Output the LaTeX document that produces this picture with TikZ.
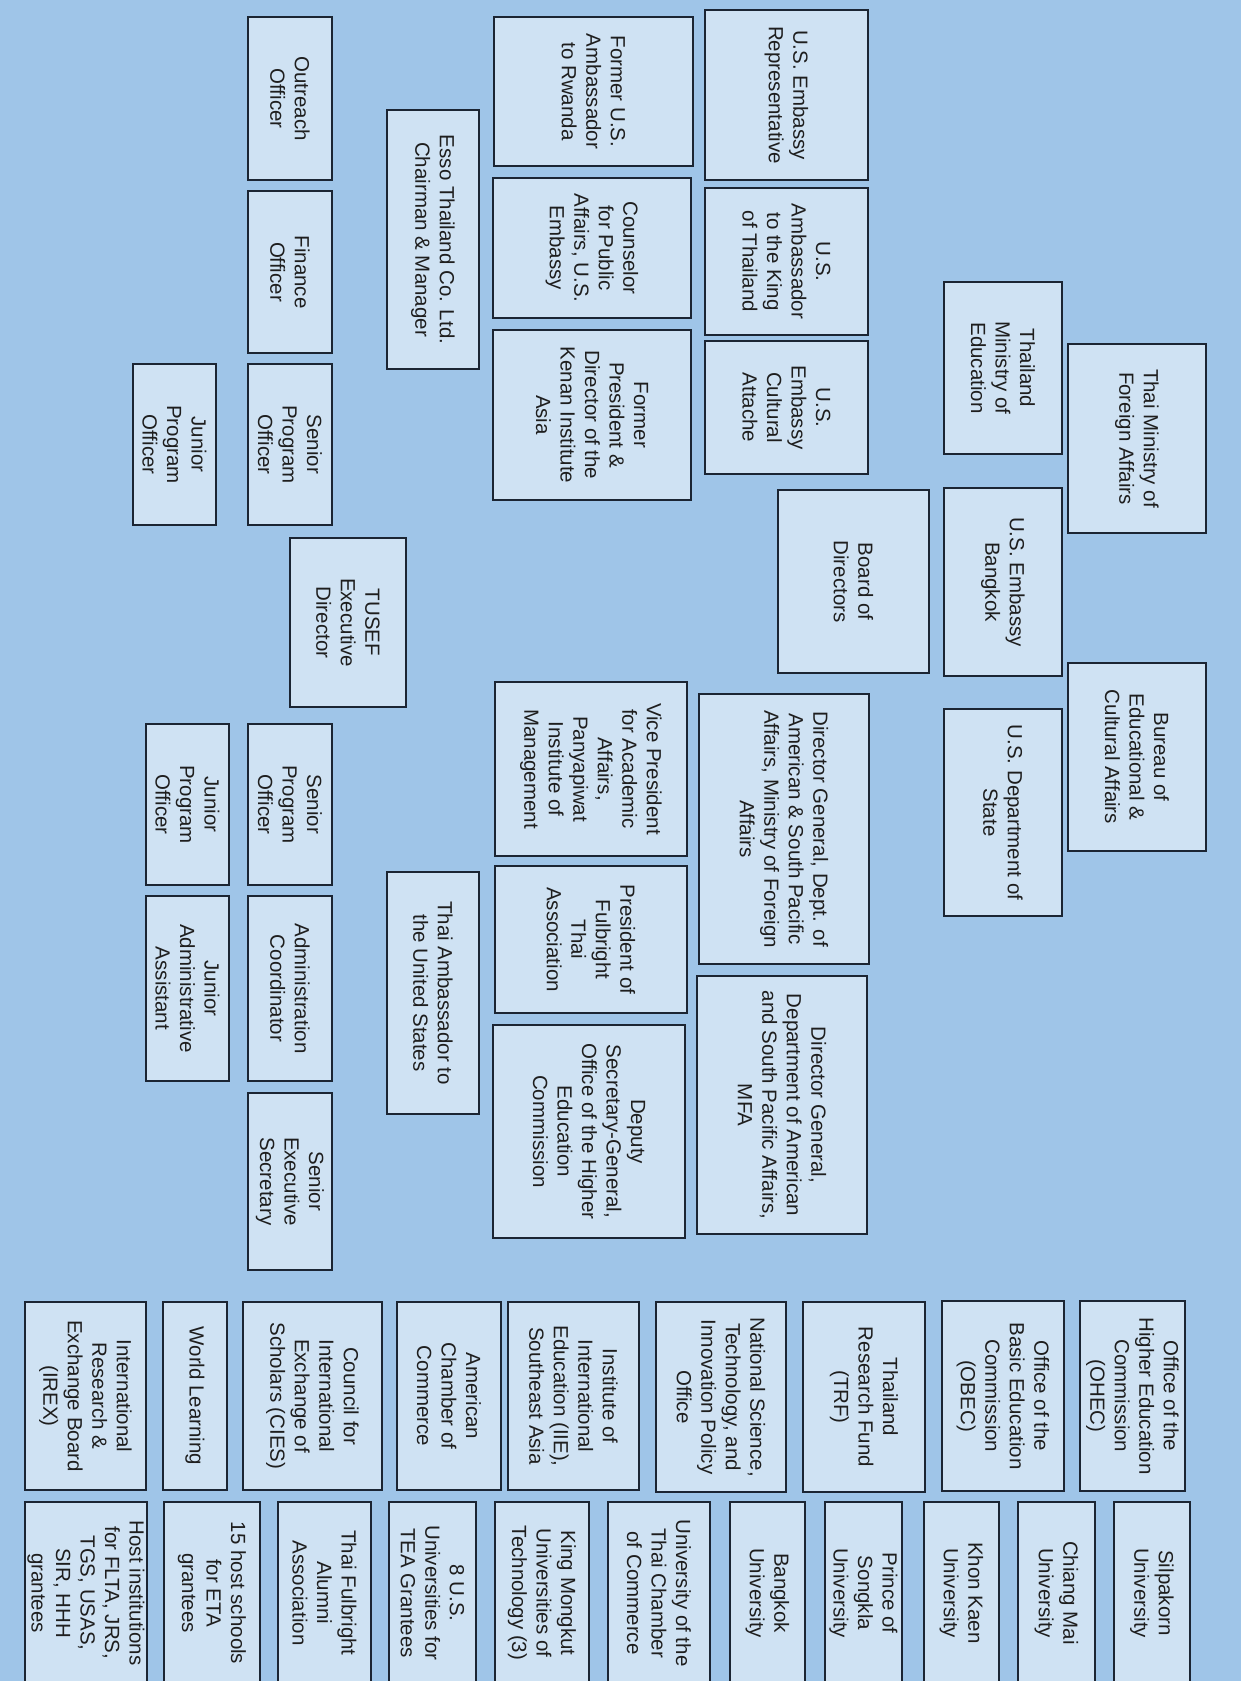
\documentclass[tikz,border=0pt]{standalone}
\usepackage{fontspec}
\setmainfont{Liberation Sans}
\usepackage{tikz}
\definecolor{sheet}{HTML}{9FC5E8}
\definecolor{unitfill}{HTML}{CFE2F3}
\definecolor{unitline}{HTML}{1B2533}
\definecolor{unittext}{HTML}{1E1E1E}

\begin{document}
\begin{tikzpicture}[
    x=0.5pt, y=-0.5pt,
    every node/.style={
        rectangle,
        draw=unitline,
        fill=unitfill,
        line width=0.9pt,
        inner sep=0pt,
        rotate=-90,
        align=center,
        text=unittext,
        font=\fontsize{10.25}{12.25}\selectfont
    },
    unitbox/.style 2 args={minimum width=#1*0.5pt, minimum height=#2*0.5pt}
]

\useasboundingbox (0,0) rectangle (1241,1681);
\fill[sheet] (0,0) rectangle (1241,1681);

% TUSEF staff
\node[unitbox={163}{84}] (outreach) at (290,98.5) {Outreach\\Officer};
\node[unitbox={162}{84}] (finance) at (290,272) {Finance\\Officer};
\node[unitbox={161}{84}] (sproga) at (290,444.5) {Senior\\Program\\Officer};
\node[unitbox={161}{83}] (jproga) at (174.5,444.5) {Junior\\Program\\Officer};
\node[unitbox={169}{116}] (tusef) at (348,622.5) {TUSEF\\Executive\\Director};
\node[unitbox={161}{84}] (sprogb) at (290,804.5) {Senior\\Program\\Officer};
\node[unitbox={161}{83}] (jprogb) at (187.5,804.5) {Junior\\Program\\Officer};
\node[unitbox={185}{84}] (admin) at (290,988.5) {Administration\\Coordinator};
\node[unitbox={185}{83}] (jadmin) at (187.5,988.5) {Junior\\Administrative\\Assistant};
\node[unitbox={177}{84}] (secretary) at (290,1181.5) {Senior\\Executive\\Secretary};

% board members
\node[unitbox={259}{92}] (esso) at (433,239.5) {Esso Thailand Co. Ltd.\\Chairman \& Manager};
\node[unitbox={242}{92}] (thaiamb) at (433,993) {Thai Ambassador to\\the United States};
\node[unitbox={149}{199}] (rwanda) at (593.5,91.5) {Former U.S.\\Ambassador\\to Rwanda};
\node[unitbox={140}{198}] (counselor) at (592,248) {Counselor\\for Public\\Affairs, U.S.\\Embassy};
\node[unitbox={170}{198}] (kenan) at (592,415) {Former\\President \&\\Director of the\\Kenan Institute\\Asia};
\node[unitbox={174}{192}] (vp) at (591,769) {Vice President\\for Academic\\Affairs,\\Panyapiwat\\Institute of\\Management};
\node[unitbox={147}{192}] (ftapres) at (591,939.5) {President of\\Fulbright\\Thai\\Association};
\node[unitbox={213}{192}] (deputy) at (589,1131.5) {Deputy\\Secretary-General,\\Office of the Higher\\Education\\Commission};
\node[unitbox={170}{163}] (embrep) at (786.5,95) {U.S. Embassy\\Representative};
\node[unitbox={147}{163}] (ambking) at (786.5,261.5) {U.S.\\Ambassador\\to the King\\of Thailand};
\node[unitbox={133}{163}] (attache) at (786.5,407.5) {U.S.\\Embassy\\Cultural\\Attache};
\node[unitbox={270}{170}] (dgdept) at (784,829) {Director General, Dept. of\\American \& South Pacific\\Affairs, Ministry of Foreign\\Affairs};
\node[unitbox={258}{170}] (dgmfa) at (782,1105) {Director General,\\Department of American\\and South Pacific Affairs,\\MFA};
\node[unitbox={183}{151}] (board) at (853.5,581.5) {Board of\\Directors};

% governments
\node[unitbox={172}{118}] (moe) at (1003,368) {Thailand\\Ministry of\\Education};
\node[unitbox={188}{118}] (embbkk) at (1003,582) {U.S. Embassy\\Bangkok};
\node[unitbox={207}{118}] (state) at (1003,812.5) {U.S. Department of\\State};
\node[unitbox={189}{138}] (mfa) at (1137,438.5) {Thai Ministry of\\Foreign Affairs};
\node[unitbox={188}{138}] (eca) at (1137,757) {Bureau of\\Educational \&\\Cultural Affairs};

% partner organizations
\node[unitbox={188}{121}] (irex) at (85.5,1396) {International\\Research \&\\Exchange Board\\(IREX)};
\node[unitbox={188}{64}] (worldlearn) at (195,1396) {World Learning};
\node[unitbox={188}{139}] (cies) at (312.5,1396) {Council for\\International\\Exchange of\\Scholars (CIES)};
\node[unitbox={188}{104}] (amcham) at (449,1396) {American\\Chamber of\\Commerce};
\node[unitbox={188}{131}] (iie) at (573.5,1396) {Institute of\\International\\Education (IIE),\\Southeast Asia};
\node[unitbox={190}{130}] (nsti) at (721,1397) {National Science,\\Technology, and\\Innovation Policy\\Office};
\node[unitbox={190}{122}] (trf) at (864,1397) {Thailand\\Research Fund\\(TRF)};
\node[unitbox={190}{122}] (obec) at (1003,1396) {Office of the\\Basic Education\\Commission\\(OBEC)};
\node[unitbox={190}{105}] (ohec) at (1132.5,1396) {Office of the\\Higher Education\\Commission\\(OHEC)};

% host institutions
\node[unitbox={182}{122}] (host) at (86,1593) {Host institutions\\for FLTA, JRS,\\TGS, USAS,\\SIR, HHH\\grantees};
\node[unitbox={182}{96}] (etahosts) at (212,1593) {15 host schools\\for ETA\\grantees};
\node[unitbox={182}{93}] (alumni) at (324.5,1593) {Thai Fulbright\\Alumni\\Association};
\node[unitbox={182}{87}] (teaunis) at (432.5,1593) {8 U.S.\\Universities for\\TEA Grantees};
\node[unitbox={182}{94}] (kmutt) at (542,1593) {King Mongkut\\Universities of\\Technology (3)};
\node[unitbox={182}{102}] (utcc) at (659,1593) {University of the\\Thai Chamber\\of Commerce};
\node[unitbox={182}{75}] (bu) at (767.5,1593) {Bangkok\\University};
\node[unitbox={182}{77}] (psu) at (863.5,1593) {Prince of\\Songkla\\University};
\node[unitbox={182}{75}] (kku) at (961.5,1593) {Khon Kaen\\University};
\node[unitbox={182}{77}] (cmu) at (1056.5,1593) {Chiang Mai\\University};
\node[unitbox={182}{76}] (silpakorn) at (1152,1593) {Silpakorn\\University};

\end{tikzpicture}
\end{document}
